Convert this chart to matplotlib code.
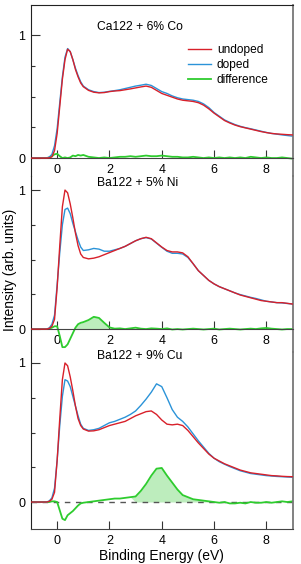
import numpy as np
import matplotlib.pyplot as plt

plt.rcParams['font.family'] = ['Liberation Sans', 'DejaVu Sans']
plt.rcParams['font.size'] = 9

# binding energy grid (eV)
energy = [-1.0, -0.6, -0.4, -0.3, -0.2, -0.1, 0.0, 0.1, 0.2, 0.3, 0.4, 0.5, 0.6, 0.7, 0.8, 0.9, 1.0,
          1.2, 1.4, 1.6, 1.8, 2.0, 2.2, 2.4, 2.6, 2.8, 3.0, 3.2, 3.4, 3.6, 3.8, 4.0, 4.2, 4.4, 4.6, 4.8, 5.0,
          5.2, 5.4, 5.6, 5.8, 6.0, 6.2, 6.4, 6.6, 6.8, 7.0, 7.2, 7.4, 7.6, 7.8, 8.0, 8.2, 8.4, 8.6, 8.8, 9.0]

# Ca122 + 6% Co
ca_undoped = [0, 0, 0, 0.002, 0.01, 0.06, 0.2, 0.42, 0.64, 0.8, 0.885, 0.865, 0.8, 0.72, 0.66, 0.61, 0.58,
              0.55, 0.535, 0.53, 0.532, 0.54, 0.545, 0.548, 0.555, 0.562, 0.57, 0.578, 0.585, 0.575, 0.55, 0.525, 0.51, 0.495, 0.48, 0.47, 0.465,
              0.46, 0.45, 0.43, 0.4, 0.365, 0.335, 0.305, 0.285, 0.268, 0.255, 0.245, 0.235, 0.225, 0.215, 0.207, 0.2, 0.196, 0.193, 0.19, 0.188]
ca_doped = [0, 0, 0, 0.008, 0.03, 0.1, 0.24, 0.45, 0.66, 0.82, 0.89, 0.865, 0.8, 0.73, 0.67, 0.62, 0.585,
            0.555, 0.54, 0.532, 0.535, 0.542, 0.548, 0.555, 0.565, 0.575, 0.585, 0.592, 0.6, 0.59, 0.565, 0.54, 0.525, 0.505, 0.49, 0.48, 0.475,
            0.47, 0.46, 0.44, 0.41, 0.37, 0.34, 0.31, 0.29, 0.272, 0.258, 0.247, 0.238, 0.228, 0.218, 0.208, 0.2, 0.194, 0.188, 0.183, 0.178]
ca_diff = [0, 0, 0, 0.005, 0.015, 0.03, 0.035, 0.015, 0.0, 0.005, 0.0, 0.005, 0.02, 0.015, 0.025, 0.02, 0.025,
           0.01, 0.005, 0.0, 0.005, 0.0, 0.005, 0.01, 0.01, 0.015, 0.01, 0.015, 0.02, 0.015, 0.015, 0.02, 0.015, 0.01, 0.01, 0.005, 0.005,
           0.01, 0.005, 0.0, 0.005, 0.0, 0.005, 0.0, 0.005, 0.0, 0.005, 0.0, 0.01, 0.005, 0.0, 0.005, 0.0, 0.0, 0.005, 0.0, -0.005]

# Ba122 + 5% Ni
ni_undoped = [0, 0, 0, 0.005, 0.02, 0.07, 0.3, 0.6, 0.88, 1.0, 0.98, 0.9, 0.8, 0.69, 0.6, 0.54, 0.515,
              0.505, 0.51, 0.52, 0.535, 0.55, 0.565, 0.58, 0.595, 0.615, 0.635, 0.65, 0.66, 0.65, 0.62, 0.59, 0.565, 0.555, 0.555, 0.548, 0.52,
              0.47, 0.42, 0.385, 0.35, 0.325, 0.305, 0.29, 0.275, 0.26, 0.245, 0.235, 0.225, 0.215, 0.205, 0.2, 0.195, 0.19, 0.19, 0.185, 0.18]
ni_doped = [0, 0, 0, 0.008, 0.035, 0.1, 0.32, 0.55, 0.75, 0.86, 0.87, 0.83, 0.76, 0.7, 0.64, 0.59, 0.565,
            0.57, 0.58, 0.575, 0.56, 0.56, 0.57, 0.58, 0.595, 0.615, 0.635, 0.65, 0.658, 0.648, 0.618, 0.588, 0.56, 0.545, 0.545, 0.54, 0.515,
            0.47, 0.42, 0.385, 0.35, 0.325, 0.305, 0.29, 0.275, 0.26, 0.248, 0.238, 0.228, 0.22, 0.21, 0.2, 0.195, 0.19, 0.188, 0.184, 0.18]
ni_diff = [0, 0, 0, 0.003, 0.01, 0.02, 0.02, -0.05, -0.13, -0.13, -0.11, -0.07, -0.03, 0.01, 0.035, 0.045, 0.05,
           0.065, 0.088, 0.08, 0.045, 0.012, 0.003, 0.005, 0.0, 0.005, 0.01, 0.003, 0.0, 0.005, 0.003, 0.0, 0.005, -0.003, 0.0, -0.003, 0.0,
           0.003, 0.0, -0.003, 0.0, 0.003, -0.003, 0.0, 0.003, 0.0, -0.003, 0.0, 0.003, 0.0, 0.005, 0.008, 0.003, 0.0, -0.003, 0.0, 0.0]

# Ba122 + 9% Cu
cu_undoped = [0, 0, 0, 0.005, 0.02, 0.07, 0.3, 0.6, 0.88, 1.0, 0.98, 0.9, 0.8, 0.69, 0.6, 0.55, 0.525,
              0.51, 0.512, 0.52, 0.535, 0.55, 0.56, 0.57, 0.58, 0.6, 0.62, 0.635, 0.65, 0.655, 0.63, 0.59, 0.56, 0.555, 0.56, 0.55, 0.515,
              0.47, 0.425, 0.385, 0.345, 0.315, 0.295, 0.275, 0.26, 0.245, 0.23, 0.22, 0.21, 0.205, 0.2, 0.195, 0.19, 0.188, 0.185, 0.183, 0.182]
cu_doped = [0, 0, 0, 0.008, 0.03, 0.1, 0.3, 0.55, 0.76, 0.88, 0.87, 0.83, 0.76, 0.69, 0.62, 0.56, 0.53,
            0.515, 0.52, 0.53, 0.55, 0.57, 0.58, 0.595, 0.61, 0.63, 0.655, 0.695, 0.74, 0.79, 0.85, 0.83, 0.75, 0.665, 0.61, 0.58, 0.54,
            0.49, 0.44, 0.395, 0.35, 0.315, 0.29, 0.272, 0.255, 0.24, 0.225, 0.215, 0.205, 0.2, 0.195, 0.19, 0.187, 0.184, 0.182, 0.18, 0.178]
cu_diff = [0, 0, 0, 0.0, 0.005, 0.005, 0.0, -0.06, -0.12, -0.13, -0.095, -0.08, -0.065, -0.045, -0.025, -0.01, -0.005,
           0.0, 0.005, 0.01, 0.015, 0.02, 0.025, 0.025, 0.03, 0.035, 0.04, 0.08, 0.13, 0.19, 0.24, 0.245, 0.19, 0.14, 0.09, 0.05, 0.035,
           0.02, 0.015, 0.01, 0.005, 0.0, -0.005, 0.0, -0.01, -0.01, -0.005, -0.01, 0.0, -0.005, -0.005, 0.0, -0.005, 0.0, 0.005, 0.0, 0.005]

labels = ['Ca122 + 6% Co', 'Ba122 + 5% Ni', 'Ba122 + 9% Cu']
fill_ranges = [None, (0.6, 2.1), (3.0, 5.8)]

RED = '#d8202a'
BLUE = '#2b93d8'
GREEN = '#2ecc2e'
FILL = '#bdedbd'

W, H = 301, 564
# (top px, bottom px, ylim) for each panel
layout = [(4.5, 176, (-0.146, 1.248)),
          (176, 352, (-0.165, 1.101)),
          (352, 529, (-0.194, 1.079))]

fig = plt.figure(figsize=(W / 100, H / 100), dpi=100)
E = np.array(energy)
data = [(ca_undoped, ca_doped, ca_diff), (ni_undoped, ni_doped, ni_diff), (cu_undoped, cu_doped, cu_diff)]

for i, ((top, bot, ylim), (und, dop, dif)) in enumerate(zip(layout, data)):
    ax = fig.add_axes([31 / W, 1 - bot / H, 261.5 / W, (bot - top) / H])
    ax.set_facecolor('none')
    ax.set_xlim(-1, 9)
    ax.set_ylim(*ylim)
    dif = np.array(dif)
    if fill_ranges[i] is not None:
        lo, hi = fill_ranges[i]
        ax.fill_between(E, dif, 0, where=(dif > 0) & (E >= lo) & (E <= hi),
                        interpolate=True, color=FILL, lw=0, zorder=1)
    if i == 2:
        ax.axhline(0, color='#555555', lw=1.0, ls=(0, (4, 4)), zorder=1.5)
    ax.plot(E, und, color=RED, lw=1.0, zorder=3, label='undoped')
    ax.plot(E, dop, color=BLUE, lw=1.0, zorder=2.5, label='doped')
    ax.plot(E, dif, color=GREEN, lw=1.3, zorder=2, label='difference')

    ax.spines['top'].set_visible(i == 0)
    ax.spines['top'].set_color('#222222')
    ax.spines['left'].set_color('#222222')
    ax.spines['right'].set_color('#777777')
    ax.spines['right'].set_linewidth(1.3)
    ax.spines['bottom'].set_color('#444444')
    if i < 2:
        # x axis sits on the zero line in the upper panels
        ax.spines['bottom'].set_position(('data', 0))

    ax.set_xticks([0, 2, 4, 6, 8])
    ax.tick_params(axis='x', direction='in', length=6, width=0.8, pad=4, color='#333333')
    ax.set_yticks([0, 1])
    ax.set_yticklabels(['0', '1'])
    ax.set_yticks([0.25, 0.5, 0.75], minor=True)
    ax.tick_params(axis='y', which='major', direction='in', length=6.5, width=0.8, pad=4, color='#333333')
    ax.tick_params(axis='y', which='minor', direction='in', length=3, width=0.8, color='#333333')

    ax.text(0.251, [0.869, 0.96, 0.977][i], labels[i], transform=ax.transAxes,
            ha='left', va='center', fontsize=8.7)

    if i == 0:
        ax.legend(loc='upper left', bbox_to_anchor=(0.6, 0.767), frameon=False,
                  borderpad=0, borderaxespad=0, handlelength=1.93, handletextpad=0.5,
                  labelspacing=0.22, fontsize=8.6)

fig.text(10 / W, 1 - 270 / H, 'Intensity (arb. units)', rotation=90, ha='center', va='center', fontsize=10)
fig.text(161.75 / W, 1 - 556 / H, 'Binding Energy (eV)', ha='center', va='center', fontsize=10)

fig.savefig('out.png', dpi=100)
